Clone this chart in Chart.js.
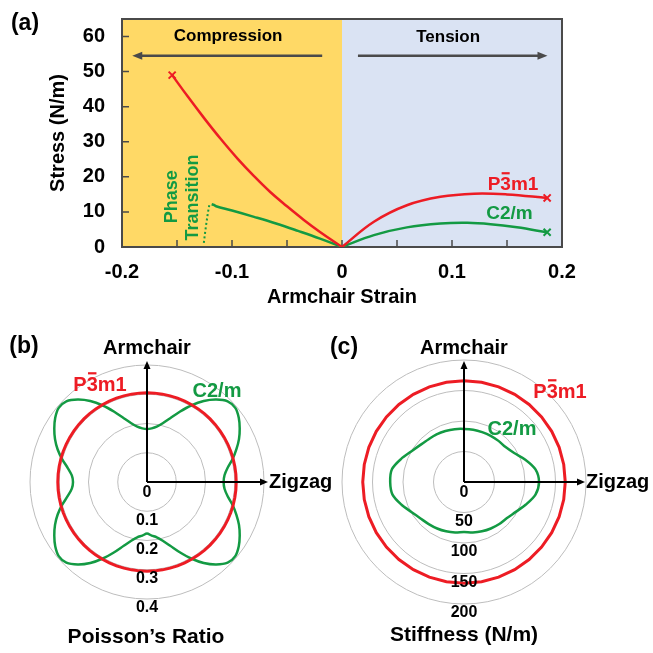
<!DOCTYPE html>
<html><head><meta charset="utf-8">
<script src="https://cdn.jsdelivr.net/npm/chart.js@4"></script>
<style>
html,body{margin:0;padding:0;background:#fff;width:653px;height:653px;overflow:hidden}
canvas{position:absolute}
#ca{left:0;top:0}
#cc{left:330px;top:320px}
#cb{left:0;top:320px}
</style></head><body>
<canvas id="ca" width="653" height="320"></canvas>
<canvas id="cc" width="323" height="333"></canvas>
<canvas id="cb" width="345" height="333"></canvas>
<script>
// ---------- Panel (a): stress-strain ----------
const strainRedComp   = [-0.1544,-0.14,-0.125,-0.11,-0.095,-0.08,-0.065,-0.05,-0.035,-0.02,0];
const stressRedComp   = [49.0,42.8,36.6,30.7,25.2,20.2,15.6,11.6,7.8,4.3,0];
const strainGreenComp = [-0.1185,-0.1165,-0.1145,-0.1,-0.08,-0.06,-0.04,-0.02,0];
const stressGreenComp = [12.2,12.0,11.6,10.4,8.6,6.7,4.6,2.4,0];
const strainPhase     = [-0.1256,-0.1245,-0.1232,-0.1218,-0.1205];
const stressPhase     = [1.2,4.0,7.0,10.0,12.1];
const strainRedTens   = [0,0.029,0.059,0.0895,0.12,0.15,0.1865];
const stressRedTens   = [0,7.2,11.9,14.3,15.2,15.0,14.0];
const strainGreenTens = [0,0.029,0.059,0.0895,0.114,0.135,0.159,0.1865];
const stressGreenTens = [0,3.4,5.6,6.7,6.9,6.5,5.6,4.2];

// ---------- Panel (b): Poisson's ratio (angles clockwise from Armchair) ----------
const anglesB = [0,5,10,15,20,25,30,35,40,45,50,55,60,65,70,75,80,85,90,95,100,105,110,115,120,125,130,135,140,145,150,155,160,165,170,175,180,185,190,195,200,205,210,215,220,225,230,235,240,245,250,255,260,265,270,275,280,285,290,295,300,305,310,315,320,325,330,335,340,345,350,355];
const poissonGreen = [0.181,0.184,0.192,0.208,0.232,0.265,0.302,0.338,0.368,0.390,0.394,0.383,0.366,0.347,0.325,0.303,0.280,0.266,0.262,
  0.266,0.280,0.303,0.325,0.347,0.366,0.383,0.394,0.390,0.368,0.338,0.302,0.265,0.232,0.208,0.192,0.184,0.176,
  0.184,0.192,0.208,0.232,0.265,0.302,0.338,0.368,0.390,0.394,0.383,0.366,0.347,0.325,0.300,0.275,0.258,
  0.253,
  0.258,0.275,0.300,0.325,0.347,0.366,0.383,0.394,0.390,0.368,0.338,0.302,0.265,0.232,0.208,0.192,0.184];
const poissonRed = [0.305,0.305,0.305,0.305,0.305,0.305,0.305,0.305,0.305,0.305,0.305,0.305,0.305,0.305,0.305,0.305,0.305,0.305,
  0.305,0.305,0.305,0.305,0.305,0.305,0.305,0.305,0.305,0.305,0.305,0.305,0.305,0.305,0.305,0.305,0.305,0.305,
  0.305,0.305,0.305,0.305,0.305,0.305,0.305,0.305,0.305,0.305,0.305,0.305,0.305,0.305,0.305,0.305,0.305,0.305,
  0.305,0.305,0.305,0.305,0.305,0.305,0.305,0.305,0.305,0.305,0.305,0.305,0.305,0.305,0.305,0.305,0.305,0.305];
const poissonTicks = [0,0.1,0.2,0.3,0.4];
const poissonTickLabels = ['0','0.1','0.2','0.3','0.4'];

// ---------- Panel (c): stiffness (angles clockwise from Armchair) ----------
const anglesC = [0,10,20,30,40,50,60,70,80,90,100,110,120,130,140,150,160,170,180,190,200,210,220,230,240,250,260,270,280,290,300,310,320,330,340,350];
const stiffGreen = [87,87,87,87.5,88,89,95,107,119,123, 119,108,98,92,90,88,86,84,82, 84,86,88,90,93,99,109,119, 121, 120,110,100,94,91,90,89,88];
const stiffRed = [166,166,166,166,166,166,166,166,166,166,166,166,166,166,166,166,166,166,
  166,166,166,166,166,166,166,166,166,166,166,166,166,166,166,166,166,166];
const stiffTicks = [0,50,100,150,200];
const stiffTickLabels = ['0','50','100','150','200'];

// ---------- styling ----------
const RED = '#ED1C24', GREEN = '#139A43', YELLOW = '#FFD966', BLUE = '#DAE3F3', AX = '#4A4A4A';
const FF = '"Liberation Sans", Arial, Helvetica, sans-serif';

function zip(xs, ys) { return xs.map((x, i) => ({x: x, y: ys[i]})); }
function label(ctx, s, x, y, size, color, align, rot) {
  ctx.save(); ctx.translate(x, y); ctx.rotate(rot || 0);
  ctx.font = 'bold ' + size + 'px ' + FF; ctx.fillStyle = color;
  ctx.textAlign = align || 'center'; ctx.textBaseline = 'middle';
  ctx.fillText(s, 0, 0); ctx.restore();
}
// "P3m1" with an overbar on the 3 (space group P-3m1)
function labelP3m1(ctx, x, y, size, color) {
  ctx.save();
  ctx.font = 'bold ' + size + 'px ' + FF; ctx.fillStyle = color;
  ctx.textAlign = 'left'; ctx.textBaseline = 'middle';
  const w = ctx.measureText('P3m1').width, wP = ctx.measureText('P').width, w3 = ctx.measureText('3').width;
  const x0 = x - w / 2;
  ctx.fillText('P3m1', x0, y);
  ctx.fillRect(x0 + wP + w3 * 0.12, y - size * 0.39 - 5, w3 * 0.76, 2.2);
  ctx.restore();
}
function arrow(ctx, x1, y1, x2, y2, color, lw, hl, hw) {
  const a = Math.atan2(y2 - y1, x2 - x1), c = Math.cos(a), s = Math.sin(a);
  ctx.save(); ctx.strokeStyle = color; ctx.fillStyle = color; ctx.lineWidth = lw;
  ctx.beginPath(); ctx.moveTo(x1, y1); ctx.lineTo(x2 - c * hl * 0.7, y2 - s * hl * 0.7); ctx.stroke();
  ctx.beginPath(); ctx.moveTo(x2, y2);
  ctx.lineTo(x2 - c * hl + s * hw, y2 - s * hl - c * hw);
  ctx.lineTo(x2 - c * hl - s * hw, y2 - s * hl + c * hw);
  ctx.closePath(); ctx.fill(); ctx.restore();
}

const panelA = {
  id: 'panelA',
  beforeDraw(chart) {
    const {ctx, chartArea: a, scales: {x}} = chart;
    const x0 = x.getPixelForValue(0);
    ctx.save();
    ctx.fillStyle = YELLOW; ctx.fillRect(a.left, a.top, x0 - a.left, a.bottom - a.top);
    ctx.fillStyle = BLUE; ctx.fillRect(x0, a.top, a.right - x0, a.bottom - a.top);
    ctx.restore();
    label(ctx, '(a)', 25, 24, 23, '#000');
  },
  beforeDatasetsDraw(chart) {
    const {ctx, chartArea: a, scales: {x, y}} = chart;
    ctx.save();
    ctx.strokeStyle = AX; ctx.lineWidth = 2;
    ctx.strokeRect(a.left, a.top, a.right - a.left, a.bottom - a.top);
    ctx.lineWidth = 1.5; ctx.beginPath();
    x.ticks.forEach(t => { const p = x.getPixelForValue(t.value); ctx.moveTo(p, a.bottom); ctx.lineTo(p, a.bottom - 7); });
    y.ticks.forEach(t => { const p = y.getPixelForValue(t.value); ctx.moveTo(a.left, p); ctx.lineTo(a.left + 7, p); });
    ctx.stroke(); ctx.restore();
    const X = v => x.getPixelForValue(v), Y = v => y.getPixelForValue(v);
    label(ctx, 'Compression', X(-0.1035), Y(59.95), 17, '#000');
    label(ctx, 'Tension', X(0.0965), Y(59.9), 17, '#000');
    arrow(ctx, X(-0.018), Y(54.5), X(-0.1907), Y(54.5), AX, 2.5, 10, 4);
    arrow(ctx, X(0.0145), Y(54.5), X(0.1868), Y(54.5), AX, 2.5, 10, 4);
    labelP3m1(ctx, X(0.1555), Y(17.8), 19, RED);
    label(ctx, 'C2/m', X(0.1523), Y(9.4), 19, GREEN);
    label(ctx, 'Phase', X(-0.1544), Y(14.3), 18, GREEN, 'center', -Math.PI / 2);
    label(ctx, 'Transition', X(-0.135), Y(14.1), 18, GREEN, 'center', -Math.PI / 2);
  }
};

const tickFontA = {family: FF, size: 20, weight: 'bold', lineHeight: 1.2};
const titleFontA = {family: FF, size: 20, weight: 'bold', lineHeight: 1.2};
const crossAt = idx => (ctx => ctx.dataIndex === idx ? 5 : 0);

new Chart(document.getElementById('ca'), {
  type: 'scatter',
  data: { datasets: [
    {data: zip(strainRedComp, stressRedComp), showLine: true, borderColor: RED, borderWidth: 2.5, tension: 0.4,
     pointStyle: 'crossRot', pointRadius: crossAt(0), pointBorderWidth: 2, pointBorderColor: RED, pointBackgroundColor: RED},
    {data: zip(strainGreenComp, stressGreenComp), showLine: true, borderColor: GREEN, borderWidth: 2.5, tension: 0.4, pointRadius: 0},
    {data: zip(strainPhase, stressPhase), showLine: true, borderColor: GREEN, borderWidth: 2, borderDash: [2, 2.5], tension: 0, pointRadius: 0},
    {data: zip(strainRedTens, stressRedTens), showLine: true, borderColor: RED, borderWidth: 2.5, tension: 0.4,
     pointStyle: 'crossRot', pointRadius: crossAt(strainRedTens.length - 1), pointBorderWidth: 2, pointBorderColor: RED, pointBackgroundColor: RED},
    {data: zip(strainGreenTens, stressGreenTens), showLine: true, borderColor: GREEN, borderWidth: 2.5, tension: 0.4,
     pointStyle: 'crossRot', pointRadius: crossAt(strainGreenTens.length - 1), pointBorderWidth: 2, pointBorderColor: GREEN, pointBackgroundColor: GREEN}
  ]},
  options: {
    responsive: false, animation: false, devicePixelRatio: 1,
    layout: {padding: {top: 19, right: 91, left: 0, bottom: 0}},
    plugins: {legend: {display: false}, tooltip: {enabled: false}},
    scales: {
      x: {type: 'linear', min: -0.2, max: 0.2,
        afterFit: s => { s.height = 73; s.paddingLeft = 0; s.paddingRight = 0; },
        grid: {display: false, drawTicks: false}, border: {display: false},
        ticks: {stepSize: 0.05, autoSkip: false, maxRotation: 0, padding: 13, color: '#000', font: tickFontA,
          callback: v => { const k = Math.round(v * 20); if (k % 2 !== 0) return ''; return k === 0 ? '0' : (k / 20).toFixed(1); }},
        title: {display: true, text: 'Armchair Strain', color: '#000', font: titleFontA, padding: {top: 0, bottom: 11}}},
      y: {type: 'linear', min: 0, max: 65,
        afterFit: s => { s.width = 122; s.paddingTop = 0; s.paddingBottom = 0; },
        grid: {display: false, drawTicks: false}, border: {display: false},
        ticks: {stepSize: 10, includeBounds: false, padding: 17, color: '#000', font: tickFontA,
          callback: v => (v % 10 === 0 ? String(v) : '')},
        title: {display: true, text: 'Stress (N/m)', color: '#000', font: titleFontA, padding: {top: 46, bottom: 0}}}
    }
  },
  plugins: [panelA]
});

// ---------- polar panels ----------
function polarPlugin(cfg) {
  return {
    id: 'polar',
    afterDatasetsDraw(chart) {
      const {ctx} = chart; const s = chart.scales.r;
      const cx = s.xCenter, cy = s.yCenter;
      arrow(ctx, cx, cy, cx, cy - 121, '#000', 2, 8, 3.5);
      arrow(ctx, cx, cy, cx + 121, cy, '#000', 2, 8, 3.5);
      cfg.ticks.forEach((v, k) => label(ctx, cfg.tickLabels[k], cx, cy + s.getDistanceFromCenterForValue(v) + (v === 0 ? 11 : 9), 16, '#000'));
      label(ctx, cfg.panel, cfg.panelX, cfg.panelY, 23, '#000');
      label(ctx, 'Armchair', cx, cy - 134, 20, '#000');
      label(ctx, 'Zigzag', cx + 122, cy, 20, '#000', 'left');
      labelP3m1(ctx, cx + cfg.redLab[0], cy + cfg.redLab[1], 20, RED);
      label(ctx, 'C2/m', cx + cfg.greenLab[0], cy + cfg.greenLab[1], 20, GREEN);
      label(ctx, cfg.title, cx + cfg.titleOff[0], cy + cfg.titleOff[1], 21, '#000');
    }
  };
}
function polarChart(id, labels, red, green, max, step, pad, cfg) {
  return new Chart(document.getElementById(id), {
    type: 'radar',
    data: {labels: labels, datasets: [
      {data: red, borderColor: RED, borderWidth: 3, pointRadius: 0, fill: false, tension: 0},
      {data: green, borderColor: GREEN, borderWidth: 2.5, pointRadius: 0, fill: false, tension: 0.3}
    ]},
    options: {
      responsive: false, animation: false, devicePixelRatio: 1,
      layout: {padding: pad},
      plugins: {legend: {display: false}, tooltip: {enabled: false}},
      elements: {line: {capBezierPoints: false}},
      scales: {r: {min: 0, max: max,
        ticks: {display: false, stepSize: step},
        grid: {circular: true, color: '#BDBDBD', lineWidth: 1},
        angleLines: {display: false}, pointLabels: {display: false}}}
    },
    plugins: [polarPlugin(cfg)]
  });
}

polarChart('cb', anglesB, poissonRed, poissonGreen, 0.4, 0.1,
  {left: 30, top: 45, right: 81, bottom: 54},
  {ticks: poissonTicks, tickLabels: poissonTickLabels, panel: '(b)', panelX: 24, panelY: 27,
   redLab: [-47, -97], greenLab: [70, -91], title: 'Poisson\u2019s Ratio', titleOff: [-1, 155]});

polarChart('cc', anglesC, stiffRed, stiffGreen, 200, 50,
  {left: 12, top: 40, right: 67, bottom: 49},
  {ticks: stiffTicks, tickLabels: stiffTickLabels, panel: '(c)', panelX: 14, panelY: 28,
   redLab: [96, -90], greenLab: [48, -53], title: 'Stiffness (N/m)', titleOff: [0, 153]});
</script></body></html>
